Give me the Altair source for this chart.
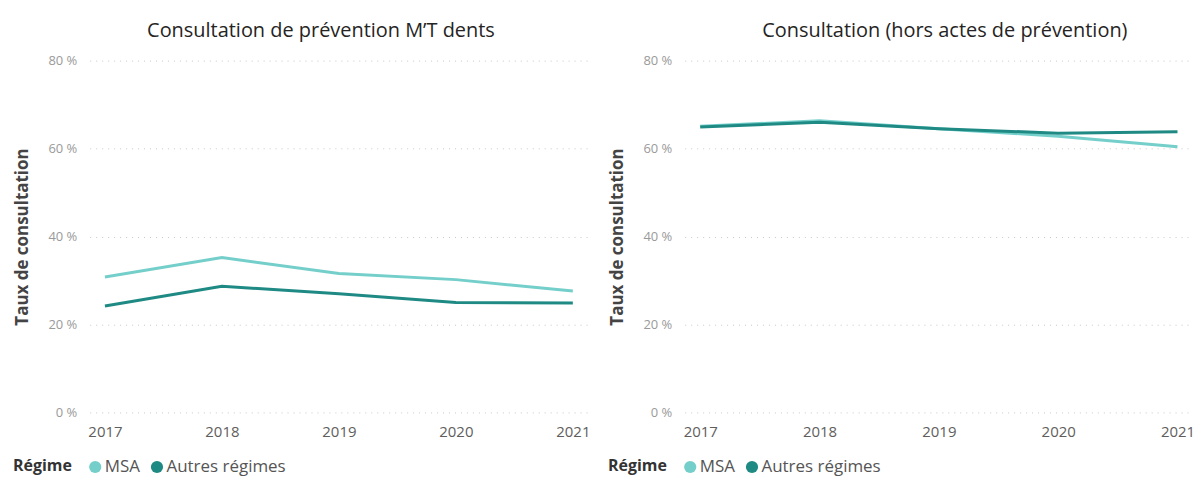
import altair as alt
import pandas as pd

years = ["2017", "2018", "2019", "2020", "2021"]
regimes = ["MSA", "Autres régimes"]
prev_msa = [30.8, 35.2, 31.6, 30.2, 27.6]
prev_autres = [24.2, 28.7, 27.0, 25.0, 24.9]
cons_msa = [65.1, 66.3, 64.5, 62.8, 60.4]
cons_autres = [64.9, 66.0, 64.5, 63.5, 63.8]
titles = ["Consultation de prévention M’T dents", "Consultation (hors actes de prévention)"]
y_ticks = [0, 20, 40, 60, 80]
colors = ["#74CFCB", "#1F8A84"]


def frame(msa, autres):
    rows = []
    for y, v in zip(years, msa):
        rows.append({"Année": y, "Régime": regimes[0], "Taux": v})
    for y, v in zip(years, autres):
        rows.append({"Année": y, "Régime": regimes[1], "Taux": v})
    return pd.DataFrame(rows)


X = alt.X("Année:O", sort=years,
          scale=alt.Scale(type="point", padding=0.13),
          axis=alt.Axis(title=None, labelAngle=0, domain=False, ticks=False,
                        grid=False, labelFontSize=15, labelColor="#605E5C",
                        labelPadding=12, labelFont="Open Sans"))
Y = alt.Y("Taux:Q", scale=alt.Scale(domain=[0, 80], nice=False),
          axis=alt.Axis(title="Taux de consultation", values=y_ticks,
                        labelExpr="datum.value + ' %'", domain=False, ticks=False,
                        grid=True, gridColor="#C8C8C8", gridDash=[1, 5], gridWidth=1,
                        labelFontSize=13, labelColor="#9A9A9A", labelPadding=13,
                        labelFont="Open Sans",
                        titleFontSize=17, titleFont="Open Sans", titleFontWeight="bold",
                        titleColor="#444444", titlePadding=16))
legend = alt.Legend(orient="none", legendX=-77, legendY=399,
                    direction="horizontal", titleOrient="left",
                    title="Régime", titleFontSize=16,
                    titleFont="Open Sans", titleFontWeight="bold",
                    titleColor="#333333", labelFont="Open Sans",
                    titleBaseline="middle",
                    labelFontSize=17, labelColor="#555555",
                    symbolType="circle", symbolSize=150, symbolStrokeWidth=0,
                    symbolOpacity=1, columnPadding=8, labelOffset=1, titlePadding=14)
color_scale = alt.Scale(domain=regimes, range=colors)


def panel(df, title, w, dx):
    base = alt.Chart(df)
    pts = base.mark_point(filled=True, size=150, opacity=1).encode(
        x=X, y=Y,
        color=alt.Color("Régime:N", sort=regimes, scale=color_scale, legend=legend),
    ).transform_filter("false")
    lines = base.mark_line(strokeWidth=3).encode(
        x=X, y=Y,
        color=alt.Color("Régime:N", sort=regimes, scale=color_scale, legend=None),
    )
    return alt.layer(pts, lines).properties(
        width=w, height=353,
        title=alt.TitleParams(title, fontSize=20, font="Open Sans", fontWeight="normal",
                              color="#252423", anchor="middle", offset=14, dx=dx),
    )


left = panel(frame(prev_msa, prev_autres), titles[0], 500, -18)
right = panel(frame(cons_msa, cons_autres), titles[1], 510, 6)

chart = alt.hconcat(left, right, spacing=18).resolve_legend(color="independent").configure(
    padding={"top": 12, "left": 5, "right": 0, "bottom": 0}, background="white"
).configure_view(stroke=None)

chart.save("out.html", embed_options={"renderer": "svg", "actions": False})
